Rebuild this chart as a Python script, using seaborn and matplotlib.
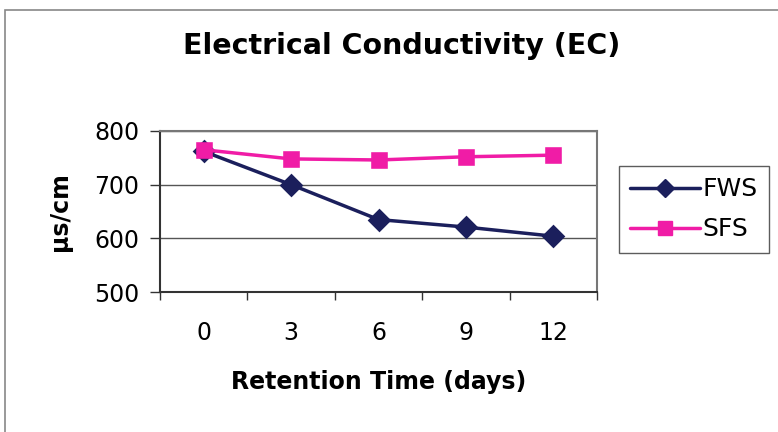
import matplotlib
matplotlib.use("Agg")
import matplotlib.pyplot as plt
from matplotlib.patches import Rectangle
from matplotlib.lines import Line2D
import seaborn as sns
import pandas as pd

days = ["0", "3", "6", "9", "12"]
fws = [762, 700, 635, 621, 604]
sfs = [765, 748, 746, 752, 755]
series_names = ["FWS", "SFS"]
colors = {"FWS": "#1b1f5c", "SFS": "#f01ca6"}

df = pd.DataFrame({
    "day": days * 2,
    "ec": fws + sfs,
    "series": ["FWS"] * len(days) + ["SFS"] * len(days),
})

sns.set_theme(style="white")
plt.rcParams["font.family"] = ["DejaVu Sans"]
plt.rcParams["text.color"] = "black"
plt.rcParams["axes.labelcolor"] = "black"
plt.rcParams["xtick.color"] = "black"
plt.rcParams["ytick.color"] = "black"

fig = plt.figure(figsize=(7.78, 4.32), dpi=100)
ax = fig.add_axes([160 / 778, 1 - 292 / 432, 437 / 778, 161 / 432])

sns.pointplot(data=df, x="day", y="ec", hue="series", order=days,
              hue_order=series_names, palette=colors, markers=["D", "s"],
              linestyles=["-", "-"], ax=ax, markersize=10, linewidth=2.5,
              legend=False)

ax.set_xlim(-0.5, 4.5)
ax.set_ylim(500, 800)
ax.set_yticks([500, 600, 700, 800])
ax.yaxis.grid(True, color="#555555", linewidth=1.0)
ax.set_axisbelow(True)
for s in ax.spines.values():
    s.set_color("#777777")
    s.set_linewidth(1.5)
ax.spines["bottom"].set_color("#333333")
ax.spines["left"].set_color("#333333")

ax.set_xticks(range(len(days)))
ax.set_xticklabels(days)
ax.set_xticks([i - 0.5 for i in range(len(days) + 1)], minor=True)
ax.tick_params(axis="x", which="major", length=0, pad=21, labelsize=17)
ax.tick_params(axis="x", which="minor", length=6, width=1, color="#333333", bottom=True)
ax.tick_params(axis="y", which="major", length=7, width=1, color="#333333", left=True,
               labelsize=17, pad=8)

ax.set_xlabel("Retention Time (days)", fontsize=17, fontweight="bold", labelpad=18)
ax.set_ylabel("\u00b5s/cm", fontsize=17, fontweight="bold", labelpad=16)
fig.suptitle("Electrical Conductivity (EC)", fontsize=20.5, fontweight="bold",
             x=402 / 778, y=1 - 46 / 432, va="center")

handles = [Line2D([], [], color=colors["FWS"], marker="D", markersize=9, linewidth=2.5),
           Line2D([], [], color=colors["SFS"], marker="s", markersize=10, linewidth=2.5)]
leg = fig.legend(handles, series_names, loc="upper left",
                 bbox_to_anchor=(619 / 778, 1 - 166 / 432), fontsize=18,
                 frameon=True, fancybox=False, edgecolor="#333333",
                 handlelength=2.8, handletextpad=0.1, borderpad=0.45,
                 labelspacing=0.65, borderaxespad=0)
leg.get_frame().set_linewidth(1.0)

fig.patches.append(Rectangle((5 / 778, -0.1), 1.2, 1 - 10 / 432 + 0.1,
                             transform=fig.transFigure, fill=False,
                             edgecolor="#888888", linewidth=1.2))

fig.savefig("out.png", dpi=100)
